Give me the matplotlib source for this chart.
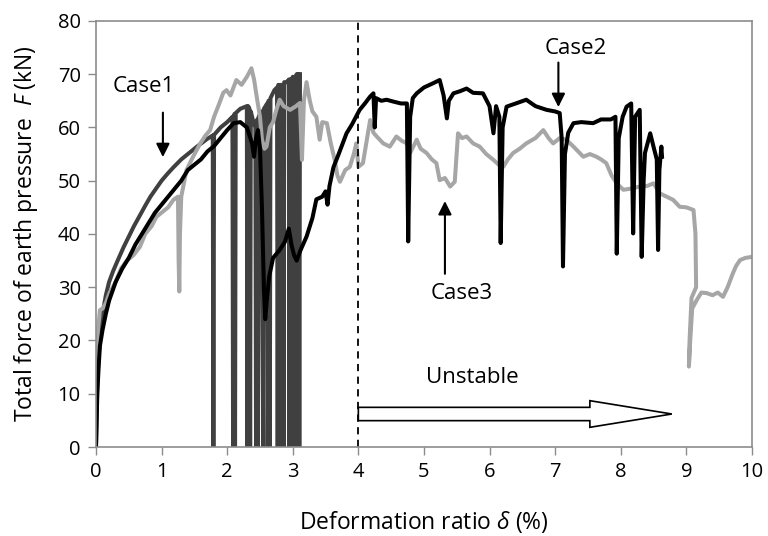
import matplotlib
matplotlib.use("Agg")
import matplotlib.pyplot as plt

plt.rcParams['font.family'] = ['Open Sans', 'DejaVu Sans']
plt.rcParams['mathtext.fontset'] = 'custom'
plt.rcParams['mathtext.it'] = 'Open Sans:italic'
plt.rcParams['mathtext.rm'] = 'Open Sans'

# ---------------- data ----------------
case1_x = [0, 0.01, 0.02, 0.04, 0.07, 0.10, 0.15, 0.20, 0.26, 0.33, 0.42, 0.50, 0.58, 0.67,
           0.75, 0.83, 0.92, 1.00, 1.09, 1.18, 1.30, 1.43, 1.55, 1.69, 1.78, 1.79, 1.80,
           1.90, 2.00, 2.08, 2.09, 2.10, 2.11, 2.12, 2.13, 2.20, 2.30, 2.31, 2.32, 2.34,
           2.35, 2.36, 2.40, 2.43, 2.44, 2.45, 2.46, 2.47, 2.48, 2.52, 2.55, 2.56, 2.61,
           2.62, 2.63, 2.64, 2.65, 2.66, 2.72, 2.76, 2.77, 2.78, 2.79, 2.80, 2.81, 2.82,
           2.83, 2.84, 2.85, 2.86, 2.87, 2.91, 2.94, 2.95, 2.96, 2.97, 2.98, 2.99, 3.00,
           3.01, 3.02, 3.03, 3.04, 3.05, 3.06, 3.07, 3.08, 3.09, 3.10, 3.11]
case1_y = [0, 6, 12, 17, 22, 25, 28.5, 31, 33, 35, 37.5, 39.5, 41.5, 43.5,
           45.3, 47, 48.6, 50, 51.3, 52.5, 54, 55.3, 56.5, 57.8, 58.5, 0, 58.6,
           60, 61, 62, 0, 62, 62.5, 0, 62.7, 63.5, 64, 0, 64, 63.5,
           0, 63, 61, 60, 0, 61, 61.5, 0, 62, 63, 0, 63.5, 64.5,
           0, 65, 65, 0, 65.5, 67, 67.5, 0, 68, 67, 0, 67.5, 68,
           0, 67.5, 68, 0, 68.5, 68.5, 69, 0, 69, 69, 0, 69, 69.5,
           0, 69.5, 69, 0, 69.5, 70, 0, 70, 70, 0, 70]

case2_x = [0, 0.01, 0.02, 0.04, 0.06, 0.10, 0.15, 0.20, 0.30, 0.40, 0.50, 0.60, 0.70, 0.80,
           0.90, 1.00, 1.10, 1.20, 1.30, 1.40, 1.50, 1.60, 1.70, 1.80, 1.90, 2.00, 2.10,
           2.20, 2.30, 2.38, 2.41, 2.44, 2.47, 2.50, 2.53, 2.56, 2.58, 2.60, 2.64, 2.70,
           2.80, 2.88, 2.94, 2.98, 3.02, 3.06, 3.12, 3.21, 3.30, 3.36, 3.45, 3.50, 3.53,
           3.56, 3.62, 3.70, 3.82, 3.90, 4.02, 4.10, 4.18, 4.23, 4.25, 4.27, 4.35, 4.43,
           4.55, 4.65, 4.74, 4.76, 4.79, 4.83, 4.89, 5.00, 5.14, 5.24, 5.30, 5.35, 5.38,
           5.45, 5.55, 5.65, 5.75, 5.90, 6.00, 6.06, 6.10, 6.15, 6.17, 6.20, 6.26, 6.40,
           6.56, 6.70, 6.87, 7.00, 7.07, 7.10, 7.12, 7.15, 7.20, 7.28, 7.40, 7.58, 7.70,
           7.85, 7.92, 7.94, 7.97, 8.03, 8.09, 8.16, 8.19, 8.22, 8.29, 8.32, 8.35, 8.37,
           8.45, 8.50, 8.55, 8.57, 8.59, 8.62, 8.63]
case2_y = [0, 5, 10, 15, 19, 22, 25, 27.5, 31, 33.5, 35.5, 38, 40, 42,
           44, 45.5, 47, 48.5, 50, 52, 53, 54, 55.5, 56.5, 58, 59.5, 60.8,
           61, 60, 57, 54.5, 58, 59.5, 56, 45, 30, 24, 27, 32, 35.5,
           37, 38.5, 41, 38, 36, 35, 37, 39.5, 43, 46.5, 47, 48, 45.5,
           49, 52.5, 55, 58.9, 60.5, 63.3, 64.5, 65.8, 66.4, 60, 65.5, 65, 65.2,
           64.8, 64.5, 64.5, 38.6, 62, 65.5, 66.4, 67.5, 68.3, 68.9, 66, 61.7, 65,
           66.4, 66.8, 67.3, 66.5, 66.4, 64, 58.9, 64, 62, 38.3, 60, 63.9, 64.5,
           65.2, 64, 63.3, 63, 62.7, 58, 33.9, 55, 59, 60.8, 61, 60.8, 61.5,
           61.5, 62, 36.3, 58, 62, 63.9, 64.5, 40.1, 62, 63.3, 35.7, 50, 55.2,
           58.9, 56.4, 54, 37, 52, 56.4, 54.5]

case3_x = [0, 0.01, 0.03, 0.06, 0.10, 0.15, 0.21, 0.30, 0.38, 0.47, 0.57, 0.67, 0.75, 0.85,
           0.92, 1.00, 1.10, 1.18, 1.25, 1.26, 1.27, 1.28, 1.30, 1.38, 1.48, 1.59, 1.67,
           1.74, 1.80, 1.88, 1.94, 1.99, 2.05, 2.14, 2.22, 2.30, 2.37, 2.41, 2.45, 2.50,
           2.53, 2.57, 2.60, 2.65, 2.70, 2.75, 2.80, 2.86, 2.96, 3.05, 3.11, 3.14, 3.17,
           3.21, 3.26, 3.30, 3.36, 3.41, 3.45, 3.52, 3.58, 3.64, 3.68, 3.72, 3.80, 3.87,
           3.93, 3.97, 4.00, 4.07, 4.12, 4.18, 4.23, 4.28, 4.38, 4.48, 4.58, 4.66, 4.74,
           4.79, 4.89, 4.95, 5.04, 5.12, 5.19, 5.24, 5.32, 5.40, 5.47, 5.52, 5.58, 5.65,
           5.75, 5.85, 5.95, 6.06, 6.14, 6.21, 6.28, 6.36, 6.46, 6.56, 6.70, 6.82, 6.90,
           6.97, 7.07, 7.17, 7.28, 7.35, 7.43, 7.53, 7.63, 7.70, 7.78, 7.86, 7.94, 8.04,
           8.15, 8.29, 8.40, 8.50, 8.60, 8.70, 8.80, 8.90, 9.00, 9.11, 9.14, 9.15, 9.08,
           9.05, 9.04, 9.06, 9.09, 9.16, 9.23, 9.31, 9.40, 9.48, 9.56, 9.63, 9.71, 9.76,
           9.82, 9.90, 10.0]
case3_y = [12, 18, 22, 25.7, 26, 27, 29, 31, 33.5, 35, 36, 37.6, 40, 41.5,
           43.2, 44, 45, 46.4, 47, 35, 29.2, 40, 47, 52, 54.5, 57, 58.5,
           59.5, 62, 64.5, 66.5, 67, 66, 68.9, 68, 69.5, 71.1, 69, 65.8, 62,
           57.7, 56, 56.4, 60, 61, 63.3, 65.2, 64, 63.3, 64, 64.6, 53.9, 65,
           68.5, 65, 63, 62, 57.7, 61, 60.8, 57, 53.9, 51, 49.8, 52, 52.6,
           55, 57, 52.6, 53.3, 57, 61.4, 59, 58.3, 57, 56.4, 58.3, 57.5, 57,
           55.2, 57.7, 56, 55.2, 54, 53.3, 50.1, 50.5, 48.9, 49.8, 58.9, 58, 58.3,
           57, 56.4, 55, 53.9, 53, 52.6, 54, 55.2, 56, 57, 58, 59.5, 58,
           57, 58, 57.7, 56.4, 55.5, 54.5, 55, 54.5, 54, 53.3, 51, 49.5, 48.3,
           48.5, 48.9, 49, 49.5, 47.6, 47, 46.4, 45.1, 45, 44.5, 40, 30, 28,
           20, 15.1, 20, 26, 27.6, 29, 28.9, 28.5, 29, 28.2, 30, 32.6, 34,
           35.1, 35.5, 35.7]

x_ticks = [0, 1, 2, 3, 4, 5, 6, 7, 8, 9, 10]
y_ticks = [0, 10, 20, 30, 40, 50, 60, 70, 80]

# ---------------- figure ----------------
fig = plt.figure(figsize=(7.68, 5.36), dpi=100)
ax = fig.add_axes([0.125, 0.166, 0.854, 0.795])

lw = 2.9
ax.plot(case1_x, case1_y, color='#404040', lw=lw)
ax.plot(case3_x, case3_y, color='#a6a6a6', lw=lw)
ax.plot(case2_x, case2_y, color='#000000', lw=lw)

ax.axvline(4, color='black', lw=1.3, ls=(0, (4, 3)))

ax.set_xlim(0, 10)
ax.set_ylim(0, 80)
ax.set_xticks(x_ticks)
ax.set_yticks(y_ticks)
ax.tick_params(direction='out', length=6, width=1, color='#8c8c8c', labelsize=14.5, pad=5)
for s in ax.spines.values():
    s.set_color('#8c8c8c')
    s.set_linewidth(1.2)

ax.set_xlabel(r'Deformation ratio $\it{\delta}$ (%)', fontsize=16.5, labelpad=19)
ax.set_ylabel(r'Total force of earth pressure  $\it{F}$ (kN)', fontsize=16.5, labelpad=13)

# annotations
ax.annotate('', xy=(1.02, 53.9), xytext=(1.02, 63.3),
            arrowprops=dict(arrowstyle='-|>', color='black', lw=1.5, mutation_scale=20))
ax.text(0.73, 67.6, 'Case1', fontsize=16, ha='center', va='center')

ax.annotate('', xy=(7.05, 63.3), xytext=(7.05, 72.7),
            arrowprops=dict(arrowstyle='-|>', color='black', lw=1.5, mutation_scale=20))
ax.text(7.32, 74.9, 'Case2', fontsize=16, ha='center', va='center')

ax.annotate('', xy=(5.32, 46.7), xytext=(5.32, 32),
            arrowprops=dict(arrowstyle='-|>', color='black', lw=1.5, mutation_scale=20))
ax.text(5.58, 28.9, 'Case3', fontsize=16, ha='center', va='center')

ax.text(5.73, 13.1, 'Unstable', fontsize=16, ha='center', va='center')
ax.arrow(4.0, 6.2, 4.78, 0, width=2.5, head_width=5.0, head_length=1.25,
         length_includes_head=True, fc='white', ec='black', lw=1.2, zorder=5)

fig.savefig('out.png', dpi=100)
